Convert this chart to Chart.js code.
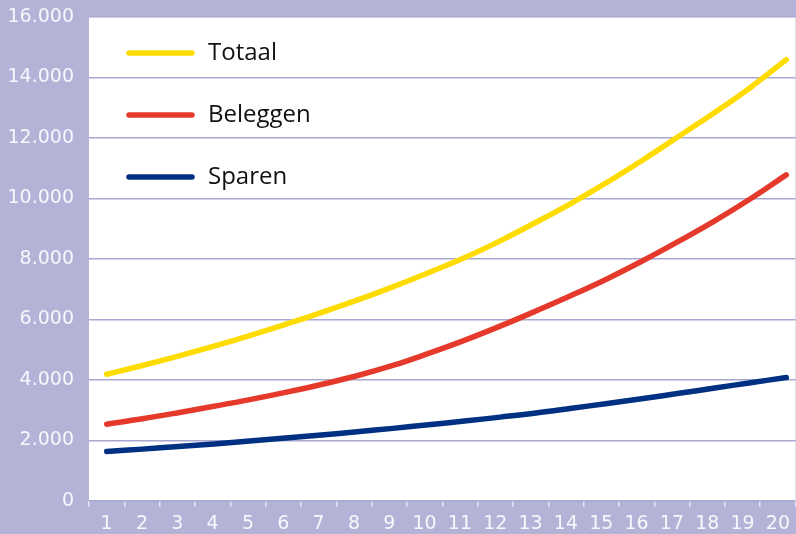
<!DOCTYPE html>
<html>
<head>
<meta charset="utf-8">
<script src="https://cdn.jsdelivr.net/npm/chart.js@4.4.1/dist/chart.umd.min.js"></script>
<style>
html,body{margin:0;padding:0;background:#b3b3d7;}
#wrap{width:796px;height:534px;}
</style>
</head>
<body>
<div id="wrap"><canvas id="chart" width="796" height="534"></canvas></div>
<script>
// jaren en waarden
let years = ['1','2','3','4','5','6','7','8','9','10','11','12','13','14','15','16','17','18','19','20'];
let yearNums = [1,2,3,4,5,6,7,8,9,10,11,12,13,14,15,16,17,18,19,20];
let totaal = [4190,4480,4790,5120,5470,5840,6230,6640,7080,7550,8040,8600,9210,9850,10540,11280,12060,12840,13670,14590];
let beleggen = [2540,2720,2920,3130,3350,3590,3850,4140,4480,4880,5310,5780,6280,6800,7350,7950,8590,9260,9990,10780];
let sparen = [1635,1715,1800,1888,1981,2079,2181,2288,2401,2519,2643,2773,2909,3065,3225,3390,3560,3735,3910,4080];
let yTicks = [0,2000,4000,6000,8000,10000,12000,14000,16000];

let seriesNames = ['Totaal','Beleggen','Sparen'];
let seriesColors = ['#ffdc00','#e53a2b','#003082'];

function points(vals){
	let out = [];
	for(let i = 0; i < vals.length; i++){
		out.push({x: yearNums[i], y: vals[i]});
	}
	return out;
}

function fmt(v){
	return String(v).replace(/\B(?=(\d{3})+(?!\d))/g, '.');
}

let plotBg = {
	id: 'plotBg',
	beforeDraw: function(chart){
		let a = chart.chartArea;
		let ctx = chart.ctx;
		ctx.save();
		ctx.fillStyle = '#ffffff';
		ctx.fillRect(a.left, a.top, a.right - a.left, a.bottom - a.top);
		ctx.restore();
	}
};

// legenda binnen het plotvlak, linksboven
let innerLegend = {
	id: 'innerLegend',
	afterDraw: function(chart){
		let a = chart.chartArea;
		let ctx = chart.ctx;
		let sets = chart.data.datasets;
		ctx.save();
		for(let i = 0; i < sets.length; i++){
			let y = a.top + 36 + i * 62;
			ctx.strokeStyle = sets[i].borderColor;
			ctx.lineWidth = 5.5;
			ctx.lineCap = 'round';
			ctx.beginPath();
			ctx.moveTo(a.left + 40, y);
			ctx.lineTo(a.left + 103, y);
			ctx.stroke();
			ctx.fillStyle = '#111111';
			ctx.font = '24px "Open Sans"';
			ctx.textBaseline = 'middle';
			ctx.fillText(sets[i].label, a.left + 119, y);
		}
		ctx.restore();
	}
};

let datasets = [];
let allVals = [totaal, beleggen, sparen];
for(let i = 0; i < allVals.length; i++){
	datasets.push({
		label: seriesNames[i],
		data: points(allVals[i]),
		xAxisID: 'xd',
		borderColor: seriesColors[i],
		backgroundColor: seriesColors[i],
		borderWidth: 5.5,
		borderCapStyle: 'round',
		borderJoinStyle: 'round',
		pointRadius: 0,
		tension: 0.4,
		fill: false
	});
}

let tickFont = {family: '"DejaVu Sans"', size: 19};

new Chart(document.getElementById('chart').getContext('2d'), {
	type: 'line',
	data: {labels: years, datasets: datasets},
	options: {
		responsive: false,
		animation: false,
		layout: {padding: {top: 17, right: 0, left: 0, bottom: 0}},
		plugins: {legend: {display: false}, tooltip: {enabled: false}},
		scales: {
			x: {
				type: 'category',
				offset: true,
				border: {display: false},
				grid: {display: true, drawOnChartArea: false, drawTicks: true, tickLength: 6, color: '#e4e4f2', lineWidth: 1.5, offset: true},
				ticks: {color: '#f7f7fc', font: tickFont, padding: 6, maxRotation: 0, autoSkip: false},
				afterFit: function(s){ s.height = 33; }
			},
			xd: {
				type: 'linear',
				display: false,
				min: 0.5055,
				max: 20.26
			},
			y: {
				min: 0,
				max: 16000,
				border: {display: false},
				grid: {color: '#a8a8d2', lineWidth: 1.5, drawTicks: false},
				afterBuildTicks: function(s){
					s.ticks = yTicks.map(function(v){ return {value: v}; });
				},
				ticks: {
					color: '#f7f7fc',
					font: tickFont,
					padding: 15,
					callback: function(v){ return fmt(v); }
				},
				afterFit: function(s){
					s.width = 89;
					s.paddingTop = 0;
					s.paddingBottom = 0;
				}
			}
		}
	},
	plugins: [plotBg, innerLegend]
});
</script>
</body>
</html>
